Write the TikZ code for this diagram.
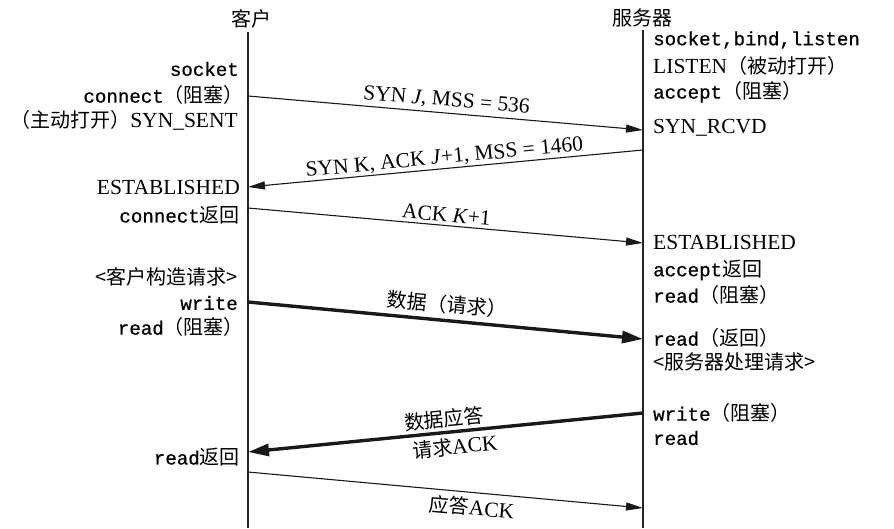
\documentclass[tikz,border=0pt]{standalone}
\usepackage{fontspec}
\setmainfont{Liberation Serif}
\setmonofont[Scale=0.89, FakeBold=0.7]{Liberation Mono}
\newfontfamily\cjk[Scale=0.93]{Noto Sans CJK SC}
\usetikzlibrary{arrows.meta}
\newcommand{\zh}[1]{{\cjk #1}}
\tikzset{
  lifeline/.style={line width=1.3pt, draw=black!85},
  host/.style={font=\fontsize{21.5}{24}\selectfont\cjk, inner sep=0pt},
  lstate/.style={anchor=east, font=\fontsize{21.5}{24}\selectfont, inner sep=0pt},
  rstate/.style={anchor=west, font=\fontsize{21.5}{24}\selectfont, inner sep=0pt},
  msg/.style={-{Triangle[length=17pt,width=8pt]}, line width=1.1pt, draw=black!90},
  bigmsg/.style={-{Triangle[length=21pt,width=12pt]}, line width=3.4pt, draw=black!90},
  msglabel/.style={sloped, font=\fontsize{21.5}{24}\selectfont, inner sep=2pt}
}
\begin{document}
\begin{tikzpicture}[x=1pt,y=-1pt]
\useasboundingbox (0,0) rectangle (894,528);

% Hosts and lifelines
\node[host] (client) at (251,19) {客户};
\node[host] (server) at (642,18) {服务器};
\coordinate (ctop) at (248,32);
\coordinate (cbot) at (248,528);
\coordinate (stop) at (643,30);
\coordinate (sbot) at (643,528);
\draw[lifeline] (ctop) -- (cbot);
\draw[lifeline] (stop) -- (sbot);

% Client side states
\node[lstate] (csock) at (239,69) {\texttt{socket}};
\node[lstate] (cconn) at (244,95) {\texttt{connect}\zh{（阻塞）}};
\node[lstate] (csent) at (238,120) {\zh{（主动打开）}SYN\_SENT};
\node[lstate] (cest) at (240,187) {ESTABLISHED};
\node[lstate] (cret) at (240,215) {\texttt{connect}\zh{返回}};
\node[lstate] (creq) at (238,277) {\zh{<客户构造请求>}};
\node[lstate] (cwrite) at (238,303) {\texttt{write}};
\node[lstate] (cread) at (244,327) {\texttt{read}\zh{（阻塞）}};
\node[lstate] (cdone) at (240,457) {\texttt{read}\zh{返回}};

% Server side states
\node[rstate] (slisten) at (653,40) {\texttt{socket,bind,listen}};
\node[rstate] (spassive) at (653,66) {LISTEN\zh{（被动打开）}};
\node[rstate] (saccept) at (653,92) {\texttt{accept}\zh{（阻塞）}};
\node[rstate] (srcvd) at (653,128) {SYN\_RCVD};
\node[rstate] (sest) at (653,242) {ESTABLISHED};
\node[rstate] (saret) at (653,270) {\texttt{accept}\zh{返回}};
\node[rstate] (sread) at (653,295) {\texttt{read}\zh{（阻塞）}};
\node[rstate] (sreadret) at (653,338) {\texttt{read}\zh{（返回）}};
\node[rstate] (sproc) at (653,362) {\zh{<服务器处理请求>}};
\node[rstate] (swrite) at (653,413) {\texttt{write}\zh{（阻塞）}};
\node[rstate] (sread2) at (653,438) {\texttt{read}};

% Message end points on the lifelines
\coordinate (c1) at (248,96);  \coordinate (s1) at (643,130);
\coordinate (s2) at (643,150); \coordinate (c2) at (248,187);
\coordinate (c3) at (248,208); \coordinate (s3) at (643,243);
\coordinate (c4) at (248,302); \coordinate (s4) at (643,339);
\coordinate (s5) at (643,413); \coordinate (c5) at (248,452);
\coordinate (c6) at (248,472); \coordinate (s6) at (643,508);

% Three-way handshake
\draw[msg] (c1) -- node[msglabel, above=1pt] {SYN \textit{J}, MSS = 536} (s1);
\draw[msg] (s2) -- node[msglabel, above=-1pt] {SYN K, ACK \textit{J}+1, MSS = 1460} (c2);
\draw[msg] (c3) -- node[msglabel, above=1pt] {ACK \textit{K}+1} (s3);

% Data exchange
\draw[bigmsg] (c4) -- node[msglabel, above=3pt] {\zh{数据（请求）}} (s4);
\draw[bigmsg] (s5) -- node[msglabel, above=1pt] {\zh{数据应答}}
  node[msglabel, below=2pt, pos=0.48] {\zh{请求}ACK} (c5);
\draw[msg] (c6) -- node[msglabel, below=3pt, pos=0.57] {\zh{应答}ACK} (s6);

\end{tikzpicture}
\end{document}
